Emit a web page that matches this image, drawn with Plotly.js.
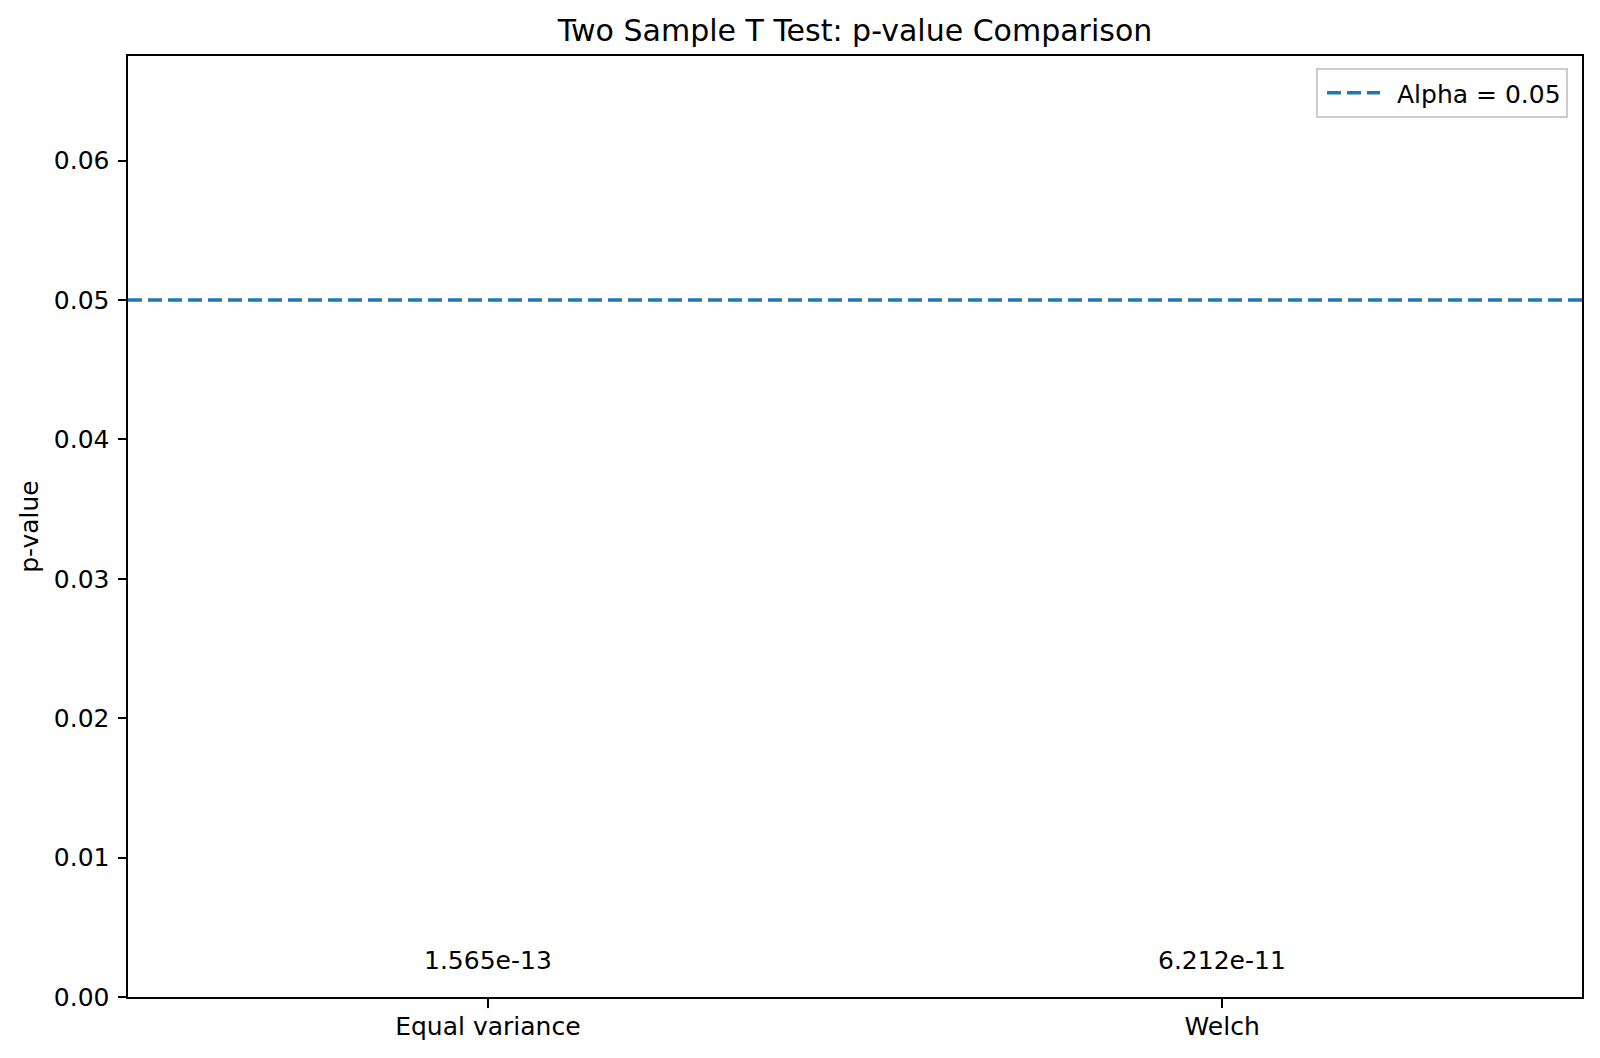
<!DOCTYPE html>
<html>
<head>
<meta charset="utf-8">
<script src="https://cdn.plot.ly/plotly-3.0.1.min.js"></script>
<style>html,body{margin:0;padding:0;background:#fff;}#chart{width:1600px;height:1058px;}</style>
</head>
<body>
<div id="chart"></div>
<script>
// Data
const tests = ["Equal variance", "Welch"];
const pValues = [1.565e-13, 6.212e-11];
const alpha = 0.05;
const alphaLabel = "Alpha = 0.05";
const barColors = ["#1f77b4", "#ff7f0e"];
const yTicks = [0, 0.01, 0.02, 0.03, 0.04, 0.05, 0.06];

const FONT = "DejaVu Sans, Liberation Sans, sans-serif";
const FS = 25;
const labelOffset = 0.002;

const traces = [{
  type: "bar",
  x: tests,
  y: pValues,
  width: 0.8,
  marker: {color: barColors},
  showlegend: false,
  hoverinfo: "x+y"
}];

const annotations = tests.map((t, i) => ({
  x: t, y: pValues[i] + labelOffset, xref: "x", yref: "y",
  text: pValues[i].toExponential(3),
  showarrow: false, yanchor: "bottom", xanchor: "center", yshift: -8,
  font: {family: FONT, size: FS, color: "#000"}
}));

const layout = {
  width: 1600, height: 1058,
  paper_bgcolor: "#fff", plot_bgcolor: "#fff",
  margin: {l: 128, r: 18, t: 56, b: 61, pad: 0},
  font: {family: FONT, size: FS, color: "#000"},
  title: {
    text: "Two Sample T Test: p-value Comparison",
    font: {family: FONT, size: 30, color: "#000"},
    xref: "paper", x: 0.5, xanchor: "center",
    yref: "container", y: 1 - 30.6 / 1058, yanchor: "middle"
  },
  xaxis: {
    type: "category",
    range: [-0.49, 1.49],
    showline: true, linecolor: "#000", linewidth: 2, mirror: true,
    ticks: "outside", ticklen: 8.5, tickwidth: 2, tickcolor: "#000",
    ticklabelstandoff: -3,
    showgrid: false, zeroline: false,
    tickfont: {family: FONT, size: FS, color: "#000"}
  },
  yaxis: {
    range: [0, 0.0675],
    tickvals: yTicks,
    ticktext: yTicks.map(v => v.toFixed(2)),
    showline: true, linecolor: "#000", linewidth: 2, mirror: true,
    ticks: "outside", ticklen: 8.5, tickwidth: 2, tickcolor: "#000",
    ticklabelstandoff: 3,
    showgrid: false, zeroline: false,
    tickfont: {family: FONT, size: FS, color: "#000"},
    title: {text: "p-value", font: {family: FONT, size: FS, color: "#000"}, standoff: 8}
  },
  shapes: [{
    type: "line", xref: "paper", x0: 0, x1: 1, yref: "y", y0: alpha, y1: alpha,
    line: {color: "#1f77b4", width: 3.6, dash: "14px,6px"},
    showlegend: true, name: alphaLabel
  }],
  showlegend: true,
  legend: {
    x: 1 - 14 / 1454, xanchor: "right", y: 1 - 12 / 941, yanchor: "top",
    bgcolor: "rgba(255,255,255,0.8)", bordercolor: "#cccccc", borderwidth: 2,
    itemwidth: 69,
    font: {family: FONT, size: FS, color: "#000"}
  },
  annotations: annotations
};

Plotly.newPlot("chart", traces, layout, {displayModeBar: false, staticPlot: true}).then(function (gd) {
  // lengthen the legend line sample to match a matplotlib legend handle
  document.querySelectorAll("#chart .legend .legendlines path, #chart .legend path.js-line").forEach(function (p) {
    p.setAttribute("d", "M9,0h53");
  });
});
</script>
</body>
</html>
